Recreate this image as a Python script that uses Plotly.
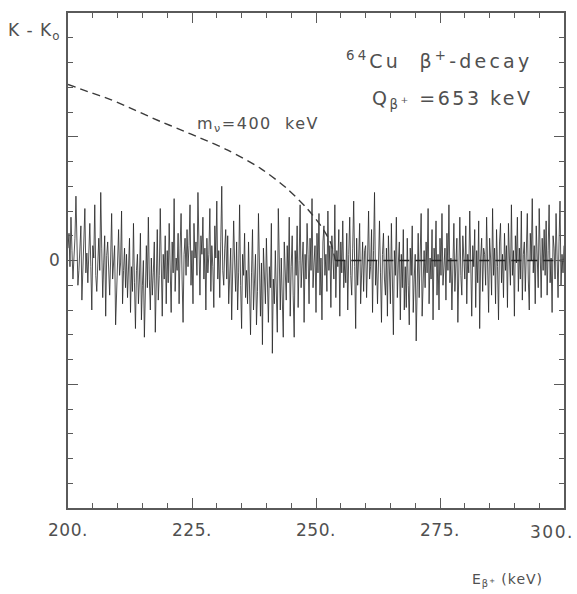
import numpy as np
import plotly.graph_objects as go

# ---- data ----
e_start, e_stop = 200.0, 300.0
noise_vals = [
    0.10, 0.22, -0.05, 0.35, 0.08, -0.15, 0.02, 0.18, 0.52, 0.05, -0.20, -0.08, 0.12, 0.28, -0.32, 0.00, 0.15, 0.42, -0.10, 0.06,
    -0.18, 0.08, 0.30, -0.05, -0.40, 0.12, 0.02, 0.45, -0.12, -0.25, 0.05, 0.18, -0.08, 0.55, 0.10, -0.30, -0.02, 0.20, -0.45, 0.04,
    0.15, -0.10, -0.28, 0.02, 0.38, -0.15, -0.05, 0.12, -0.52, -0.20, 0.08, 0.25, -0.12, -0.02, 0.40, -0.35, -0.08, 0.10, -0.22, 0.05,
    -0.30, -0.12, 0.18, -0.42, -0.05, -0.25, 0.30, -0.18, -0.55, -0.08, 0.05, -0.35, -0.15, 0.22, -0.48, -0.20, 0.00, -0.62, -0.10, 0.12,
    -0.22, 0.35, -0.15, -0.40, 0.02, -0.28, -0.10, 0.15, -0.58, -0.05, 0.25, -0.32, -0.12, 0.42, -0.20, -0.45, 0.05, -0.15, 0.20, -0.35,
    0.08, -0.18, 0.30, -0.02, -0.42, 0.15, -0.10, 0.50, -0.25, 0.02, -0.08, 0.22, -0.35, 0.10, 0.38, -0.15, -0.50, 0.05, 0.18, -0.12,
    0.25, -0.05, 0.12, 0.45, -0.20, 0.08, -0.35, 0.30, 0.02, 0.15, -0.12, 0.55, -0.02, -0.28, 0.20, 0.05, 0.35, -0.15, 0.10, -0.40,
    0.18, -0.10, 0.05, 0.42, -0.25, 0.12, -0.05, -0.38, 0.28, 0.02, 0.48, -0.15, 0.08, -0.30, 0.15, 0.60, -0.08, -0.20, 0.10, 0.25,
    -0.15, 0.20, -0.35, -0.05, 0.10, -0.48, -0.18, 0.32, -0.02, -0.25, 0.15, -0.40, -0.10, 0.45, -0.20, -0.55, 0.05, -0.12, 0.22, -0.30,
    -0.08, -0.35, 0.15, -0.22, -0.60, -0.10, 0.25, -0.40, -0.15, 0.05, -0.52, -0.25, 0.38, -0.12, -0.45, -0.02, -0.68, 0.10, -0.20, -0.35,
    0.18, -0.28, -0.50, -0.05, -0.22, 0.30, -0.75, -0.15, -0.35, 0.08, -0.25, -0.58, 0.42, -0.18, -0.40, 0.02, -0.30, -0.62, 0.15, -0.10,
    -0.32, 0.12, -0.18, 0.35, -0.45, -0.05, 0.20, -0.28, -0.62, 0.08, -0.12, 0.28, -0.38, 0.00, 0.45, -0.22, -0.08, 0.15, -0.50, 0.05,
    -0.15, 0.30, 0.05, -0.35, 0.18, -0.08, 0.50, -0.22, -0.02, 0.12, -0.42, 0.22, -0.10, 0.38, -0.28, 0.02, -0.48, 0.15, 0.28, -0.12,
    0.05, -0.25, 0.40, -0.08, 0.12, -0.38, 0.20, 0.02, -0.15, 0.45, -0.30, 0.08, -0.05, 0.25, -0.45, 0.15, -0.10, 0.32, -0.22, 0.00,
    -0.18, 0.22, -0.40, 0.05, 0.35, -0.12, -0.28, 0.10, 0.48, -0.05, -0.55, 0.18, -0.20, 0.02, 0.30, -0.35, -0.08, 0.15, -0.25, 0.08,
    0.12, -0.30, 0.02, 0.40, -0.15, -0.05, 0.25, -0.42, 0.08, 0.55, -0.20, 0.00, -0.35, 0.18, 0.32, -0.10, -0.50, 0.05, 0.22, -0.15,
    -0.28, 0.10, -0.45, 0.20, -0.05, -0.35, 0.30, -0.18, -0.60, 0.08, -0.12, 0.35, -0.30, -0.02, 0.15, -0.48, 0.05, -0.22, 0.25, -0.40,
    -0.05, -0.38, 0.18, -0.20, -0.52, 0.10, -0.12, 0.28, -0.42, -0.15, 0.05, -0.65, -0.08, 0.22, -0.30, -0.02, 0.38, -0.45, -0.18, 0.08,
    -0.22, 0.15, -0.10, 0.42, -0.35, 0.02, -0.15, 0.25, -0.48, 0.10, -0.05, 0.32, -0.28, 0.05, -0.40, 0.18, -0.12, 0.38, -0.20, -0.02,
    0.10, -0.32, 0.22, -0.08, 0.45, -0.18, 0.02, -0.40, 0.15, 0.30, -0.25, -0.05, 0.18, -0.50, 0.08, 0.35, -0.12, -0.28, 0.20, 0.00,
    -0.15, 0.28, -0.35, 0.05, -0.10, 0.40, -0.22, -0.45, 0.12, -0.05, 0.25, -0.38, 0.08, -0.18, 0.32, -0.55, 0.02, 0.18, -0.25, 0.10,
    0.05, -0.20, 0.35, -0.10, -0.42, 0.18, 0.02, -0.28, 0.42, -0.12, 0.10, -0.35, 0.25, -0.05, -0.48, 0.15, 0.30, -0.18, 0.05, -0.30,
    0.22, -0.08, 0.12, -0.38, 0.30, 0.02, -0.20, 0.45, -0.12, 0.08, -0.45, 0.20, -0.02, 0.35, -0.25, 0.10, -0.15, 0.40, -0.32, 0.05,
    0.15, -0.25, 0.05, 0.38, -0.15, -0.40, 0.22, 0.00, 0.50, -0.10, 0.12, -0.35, 0.28, -0.05, -0.22, 0.42, 0.02, -0.30, 0.18, -0.08,
    0.25, -0.12, 0.32, -0.28, 0.08, 0.45, -0.18, 0.02, -0.42, 0.20, 0.10, -0.15, 0.38, -0.05, -0.30, 0.15, 0.48, -0.20, 0.05, -0.10, 0.12,
]
noise_energy = np.linspace(e_start, e_stop, len(noise_vals))

# m_nu = 400 keV curve (curved part) and its flat continuation
curve_energy = [200.0, 204.0, 208.6, 213.5, 218.6, 222.5, 226.7, 232.1, 238.8, 244.1, 248.2, 250.9, 252.9, 253.9]
curve_vals   = [1.423, 1.365, 1.30, 1.215, 1.124, 1.06, 0.989, 0.894, 0.745, 0.583, 0.42, 0.285, 0.149, 0.0]
flat_energy = [253.9, 300.0]
flat_vals = [0.0, 0.0]

x_tick_vals = [200, 225, 250, 275, 300]
x_tick_text = ["200.", "225.", "250.", "275.", "300."]
y_tick_vals = [-2, -1, 0, 1, 2]
y_tick_text = ["", "", "0", "", ""]

FONT = "DejaVu Sans"
INK = "#505050"
AX = "#5a5a5a"


def ls(text, px):
    return f'<span style="letter-spacing:{px}px">{text}</span>'


fig = go.Figure()
fig.add_trace(go.Scatter(x=noise_energy, y=noise_vals, mode="lines",
                         line=dict(color="#262626", width=0.8), hoverinfo="skip"))
fig.add_trace(go.Scatter(x=curve_energy, y=curve_vals, mode="lines",
                         line=dict(color="#3a3a3a", width=1.4, dash="8px,5px", shape="spline", smoothing=0.8),
                         hoverinfo="skip"))
fig.add_trace(go.Scatter(x=flat_energy, y=flat_vals, mode="lines",
                         line=dict(color="#222222", width=1.6, dash="10px,6px"), hoverinfo="skip"))

tick_font = dict(family=FONT, size=17, color=INK)
axis_common = dict(showline=True, linecolor=AX, linewidth=1.5, mirror="ticks",
                   ticks="inside", ticklen=10, tickwidth=1.3, tickcolor=AX,
                   showgrid=False, zeroline=False, automargin=False,
                   tickfont=tick_font)
# last x label is drawn as an annotation so it can sit flush inside the right edge
x_labels = [ls(t, 0.6) for t in x_tick_text[:-1]] + [""]
fig.update_xaxes(range=[e_start, e_stop], tickvals=x_tick_vals, ticktext=x_labels,
                 minor=dict(dtick=5, ticks="inside", ticklen=5, tickcolor=AX, tickwidth=1.2),
                 ticklabelstandoff=6, **axis_common)
fig.update_yaxes(range=[-2, 2], tickvals=y_tick_vals, ticktext=y_tick_text,
                 minor=dict(dtick=0.2, ticks="inside", ticklen=5, tickcolor=AX, tickwidth=1.2),
                 ticklabelstandoff=3, **axis_common)

fig.add_annotation(x=x_tick_vals[-1], y=0, xref="x", yref="paper",
                   text=ls(x_tick_text[-1], 1.5), showarrow=False,
                   xanchor="right", yanchor="top", xshift=12, yshift=-12, font=tick_font)

fig.add_annotation(x=225.7, y=1.10, xref="x", yref="y",
                   text=ls("m<sub>ν</sub>=400  keV", 1.5),
                   showarrow=False, xanchor="left", yanchor="middle",
                   font=dict(family=FONT, size=16, color=INK))
fig.add_annotation(x=255.6, y=1.62, xref="x", yref="y",
                   text=ls("<sup>64</sup>Cu  β<sup>+</sup>-decay", 3.2),
                   showarrow=False, xanchor="left", yanchor="middle",
                   font=dict(family=FONT, size=19, color=INK))
fig.add_annotation(x=260.9, y=1.30, xref="x", yref="y",
                   text=ls("Q<sub>β<sup>+</sup></sub> =653 keV", 2.5),
                   showarrow=False, xanchor="left", yanchor="middle",
                   font=dict(family=FONT, size=19, color=INK))
fig.add_annotation(x=-0.01, y=0.962, xref="paper", yref="paper",
                   text=ls("K - K<sub>o</sub>", 1),
                   showarrow=False, xanchor="right", yanchor="middle",
                   font=dict(family=FONT, size=17, color=INK))
fig.add_annotation(x=0.81, y=-0.145, xref="paper", yref="paper",
                   text=ls("E<sub>β<sup>+</sup></sub> (keV)", 1),
                   showarrow=False, xanchor="left", yanchor="middle",
                   font=dict(family=FONT, size=14, color=INK))

fig.update_layout(width=577, height=594, margin=dict(l=68, r=13, t=13, b=86),
                  paper_bgcolor="white", plot_bgcolor="white", showlegend=False)
fig.write_html("out.html")
